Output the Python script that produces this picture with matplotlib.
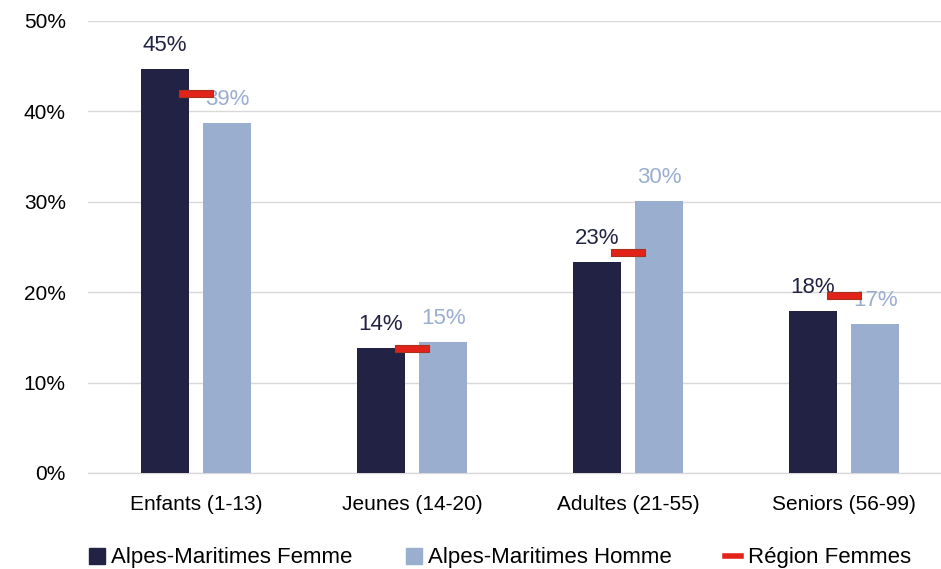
import matplotlib.pyplot as plt
import numpy as np
from matplotlib.patches import Patch
from matplotlib.lines import Line2D

categories = ['Enfants (1-13)', 'Jeunes (14-20)', 'Adultes (21-55)', 'Seniors (56-99)']
femme = [44.7, 13.8, 23.3, 17.9]
homme = [38.7, 14.5, 30.1, 16.5]
region_femmes = [42.0, 13.8, 24.4, 19.6]
labels_femme = ['45%', '14%', '23%', '18%']
labels_homme = ['39%', '15%', '30%', '17%']

navy = '#222344'
blue = '#9AAED0'
red = '#E2231A'
fs = 15

plt.rcParams['font.family'] = ['Liberation Sans', 'DejaVu Sans']

fig = plt.figure(figsize=(9.41, 5.69), dpi=100)
ax = fig.add_axes([88/941, 96/569, 864/941, 452/569])

x = np.arange(len(categories))
w = 0.222
off = 0.144
ax.bar(x - off, femme, w, color=navy, zorder=3)
ax.bar(x + off, homme, w, color=blue, zorder=3)
# region markers drawn as short thick bars
ax.bar(x, 0.75, 0.153, bottom=np.array(region_femmes) - 0.375,
       color=red, edgecolor='#A8321C', linewidth=0.8, zorder=5)

for i in range(len(categories)):
    ax.text(x[i] - off, femme[i] + 2.6, labels_femme[i], ha='center', va='center',
            fontsize=fs + 1, color=navy, zorder=4)
    ax.text(x[i] + off, homme[i] + 2.6, labels_homme[i], ha='center', va='center',
            fontsize=fs + 1, color=blue, zorder=4)

ax.set_xlim(-0.5, 3.5)
ax.set_ylim(0, 50)
ax.set_yticks(np.arange(0, 51, 10))
ax.set_yticklabels(['%d%%' % v for v in range(0, 51, 10)])
ax.set_xticks(x)
ax.set_xticklabels(categories)
ax.tick_params(axis='both', length=0, labelsize=fs, colors='#000000')
ax.tick_params(axis='y', pad=16)
ax.tick_params(axis='x', pad=16)
ax.grid(axis='y', color='#d9d9d9', linewidth=1, zorder=0)
for s in ['top', 'right', 'left']:
    ax.spines[s].set_visible(False)
ax.spines['bottom'].set_color('#d9d9d9')
ax.spines['bottom'].set_linewidth(1)

handles = [Patch(color=navy), Patch(color=blue),
           Line2D([], [], color=red, linewidth=4)]
names = ['Alpes-Maritimes Femme', 'Alpes-Maritimes Homme', 'Région Femmes']
fig.legend(handles, names, loc='center', bbox_to_anchor=(500/941, 1 - 558/569),
           ncol=3, frameon=False, fontsize=16, handlelength=0.7, handleheight=0.7,
           handletextpad=0.3, columnspacing=2.4)

fig.savefig('out.png', dpi=100)
